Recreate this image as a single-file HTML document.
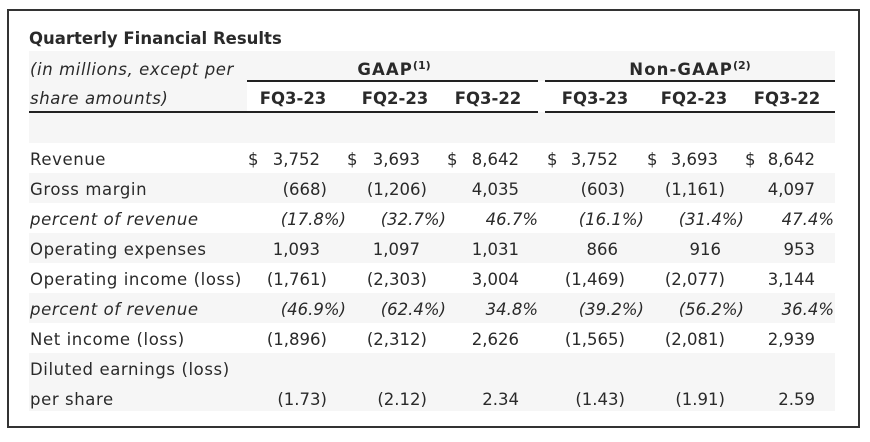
<!DOCTYPE html>
<html><head><meta charset="utf-8"><style>
html,body{margin:0;padding:0;background:#fff;}
#c{position:relative;width:870px;height:442px;overflow:hidden;background:#fff;font-family:"DejaVu Sans","Liberation Sans",sans-serif;font-size:16.5px;color:#2a2a2a;}
.box{position:absolute;left:7px;top:9px;width:853px;height:419px;box-sizing:border-box;border:2px solid #333;}
.g{position:absolute;background:#f6f6f6;}
.ln{position:absolute;background:#222;height:2px;}
.t{position:absolute;height:30px;line-height:30px;white-space:nowrap;}
.l{left:30px;letter-spacing:0.6px;}
.i{font-style:italic;}
.b{font-weight:bold;}
.v{position:absolute;height:30px;line-height:30px;white-space:nowrap;text-align:right;width:120px;}
.h{position:absolute;height:30px;line-height:30px;white-space:nowrap;text-align:center;width:120px;font-weight:bold;}
sup{font-size:11px;line-height:0;vertical-align:6px;letter-spacing:0;}
</style></head><body><div id="c">
<div class="box"></div>

<div class="g" style="left:29px;top:51px;width:806px;height:30px"></div>
<div class="g" style="left:29px;top:81px;width:218px;height:31px"></div>
<div class="g" style="left:29px;top:112px;width:806px;height:31px"></div>
<div class="g" style="left:29px;top:173px;width:806px;height:30px"></div>
<div class="g" style="left:29px;top:233px;width:806px;height:30px"></div>
<div class="g" style="left:29px;top:293px;width:806px;height:30px"></div>
<div class="g" style="left:29px;top:353px;width:806px;height:58px"></div>

<div class="ln" style="left:247px;top:80px;width:291px"></div>
<div class="ln" style="left:545px;top:80px;width:290px"></div>
<div class="ln" style="left:29px;top:111px;width:509px"></div>
<div class="ln" style="left:545px;top:111px;width:290px"></div>

<div class="t b" style="left:29px;top:24px">Quarterly Financial Results</div>
<div class="t l i" style="top:55px">(in millions, except per</div>
<div class="t l i" style="top:84px">share amounts)</div>
<div class="h" style="left:334px;top:55px;letter-spacing:1.1px">GAAP<sup>(1)</sup></div>
<div class="h" style="left:610px;top:55px;width:160px;letter-spacing:1.1px">Non-GAAP<sup>(2)</sup></div>
<div class="h" style="left:233px;top:84px">FQ3-23</div>
<div class="h" style="left:335px;top:84px">FQ2-23</div>
<div class="h" style="left:428px;top:84px">FQ3-22</div>
<div class="h" style="left:535px;top:84px">FQ3-23</div>
<div class="h" style="left:634px;top:84px">FQ2-23</div>
<div class="h" style="left:727px;top:84px">FQ3-22</div>

<div class="t l" style="top:145px">Revenue</div>
<div class="t l" style="top:175px">Gross margin</div>
<div class="t l i" style="top:205px">percent of revenue</div>
<div class="t l" style="top:235px">Operating expenses</div>
<div class="t l" style="top:265px">Operating income (loss)</div>
<div class="t l i" style="top:295px">percent of revenue</div>
<div class="t l" style="top:325px">Net income (loss)</div>
<div class="t l" style="top:355px">Diluted earnings (loss)</div>
<div class="t l" style="top:385px">per share</div>

<div class="t" style="left:248px;top:145px">$</div>
<div class="t" style="left:347px;top:145px">$</div>
<div class="t" style="left:447px;top:145px">$</div>
<div class="t" style="left:547px;top:145px">$</div>
<div class="t" style="left:647px;top:145px">$</div>
<div class="t" style="left:745px;top:145px">$</div>
<div class="v" style="right:550px;top:145px">3,752</div>
<div class="v" style="right:450px;top:145px">3,693</div>
<div class="v" style="right:351px;top:145px">8,642</div>
<div class="v" style="right:252px;top:145px">3,752</div>
<div class="v" style="right:152px;top:145px">3,693</div>
<div class="v" style="right:55px;top:145px">8,642</div>

<div class="v" style="right:543px;top:175px">(668)</div>
<div class="v" style="right:443px;top:175px">(1,206)</div>
<div class="v" style="right:351px;top:175px">4,035</div>
<div class="v" style="right:245px;top:175px">(603)</div>
<div class="v" style="right:145px;top:175px">(1,161)</div>
<div class="v" style="right:55px;top:175px">4,097</div>

<div class="v i" style="right:524px;top:205px">(17.8%)</div>
<div class="v i" style="right:424px;top:205px">(32.7%)</div>
<div class="v i" style="right:332px;top:205px">46.7%</div>
<div class="v i" style="right:226px;top:205px">(16.1%)</div>
<div class="v i" style="right:126px;top:205px">(31.4%)</div>
<div class="v i" style="right:36px;top:205px">47.4%</div>

<div class="v" style="right:550px;top:235px">1,093</div>
<div class="v" style="right:450px;top:235px">1,097</div>
<div class="v" style="right:351px;top:235px">1,031</div>
<div class="v" style="right:252px;top:235px">866</div>
<div class="v" style="right:149px;top:235px">916</div>
<div class="v" style="right:55px;top:235px">953</div>

<div class="v" style="right:543px;top:265px">(1,761)</div>
<div class="v" style="right:443px;top:265px">(2,303)</div>
<div class="v" style="right:351px;top:265px">3,004</div>
<div class="v" style="right:245px;top:265px">(1,469)</div>
<div class="v" style="right:145px;top:265px">(2,077)</div>
<div class="v" style="right:55px;top:265px">3,144</div>

<div class="v i" style="right:524px;top:295px">(46.9%)</div>
<div class="v i" style="right:424px;top:295px">(62.4%)</div>
<div class="v i" style="right:332px;top:295px">34.8%</div>
<div class="v i" style="right:226px;top:295px">(39.2%)</div>
<div class="v i" style="right:126px;top:295px">(56.2%)</div>
<div class="v i" style="right:36px;top:295px">36.4%</div>

<div class="v" style="right:543px;top:325px">(1,896)</div>
<div class="v" style="right:443px;top:325px">(2,312)</div>
<div class="v" style="right:351px;top:325px">2,626</div>
<div class="v" style="right:245px;top:325px">(1,565)</div>
<div class="v" style="right:145px;top:325px">(2,081)</div>
<div class="v" style="right:55px;top:325px">2,939</div>

<div class="v" style="right:543px;top:385px">(1.73)</div>
<div class="v" style="right:443px;top:385px">(2.12)</div>
<div class="v" style="right:351px;top:385px">2.34</div>
<div class="v" style="right:245px;top:385px">(1.43)</div>
<div class="v" style="right:145px;top:385px">(1.91)</div>
<div class="v" style="right:55px;top:385px">2.59</div>
</div></body></html>
